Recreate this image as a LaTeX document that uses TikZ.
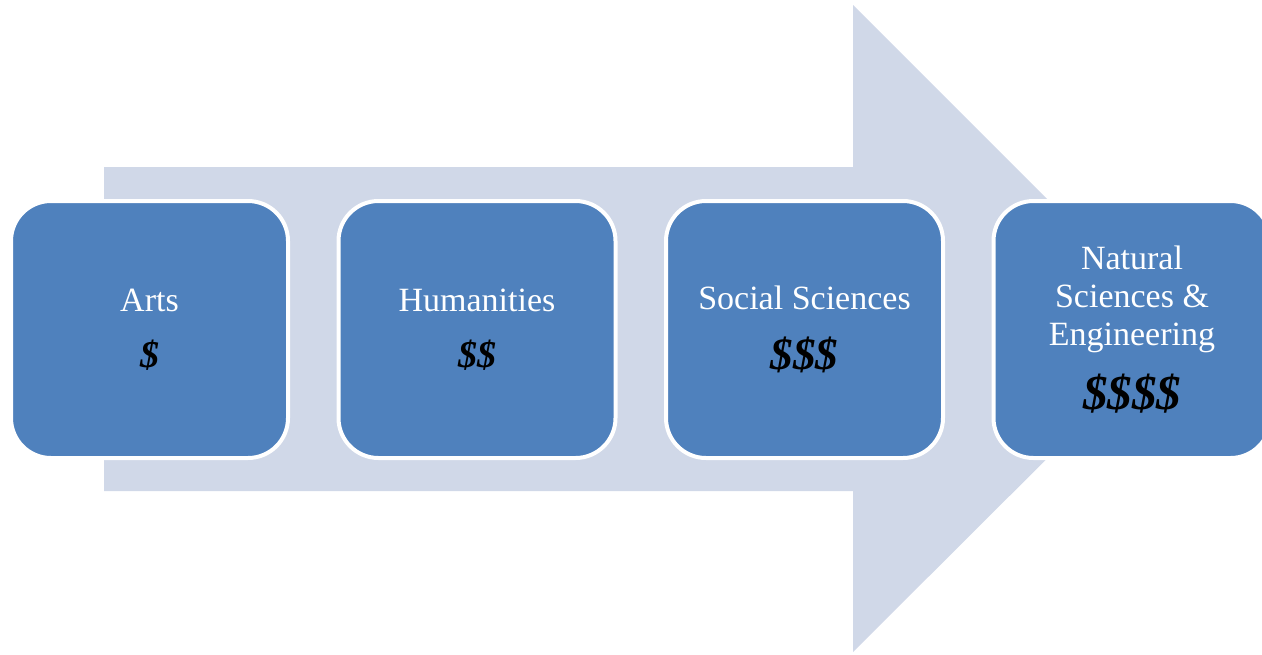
\documentclass[tikz,border=0pt]{standalone}
\usepackage{fontspec}
\setmainfont{Liberation Serif}
\usetikzlibrary{positioning}
\definecolor{shaft}{HTML}{D0D8E8}
\definecolor{boxblue}{HTML}{4F81BD}
\newcommand{\money}[2]{{\fontsize{#1}{#1}\selectfont\bfseries\itshape\color{black}#2}}

\begin{document}
\begin{tikzpicture}[
      x = 1pt, y = -1pt, % pixel grid of the page
      node distance = 50.5pt, % gap between the boxes
      field/.style = {
        rectangle,
        rounded corners = 40pt,
        fill = boxblue,
        draw = white,
        line width = 4pt,
        minimum width = 277pt,
        minimum height = 257pt,
        outer sep = 0pt,
        align = center,
        text = white,
        font = \fontsize{34}{38}\selectfont
      },
    ]
    \useasboundingbox (0,0) rectangle (1262,654);

    % big arrow behind the boxes
    \fill[shaft] (104,167) -- (853,167) -- (853,5) -- (1177,329)
      -- (853,652) -- (853,491) -- (104,491) -- cycle;

    \node[field] (arts) at (149.5,329.5) {Arts\\[18pt]\money{38}{\$}};
    \node[field, right = of arts] (hum) {Humanities\\[18pt]\money{38}{\$\$}};
    \node[field, right = of hum] (soc) {Social Sciences\\[22pt]\money{45}{\$\$\$}};
    \node[field, right = of soc] (nat) {Natural\\Sciences \&\\Engineering\\[20pt]\money{49}{\$\$\$\$}};
  \end{tikzpicture}
\end{document}
